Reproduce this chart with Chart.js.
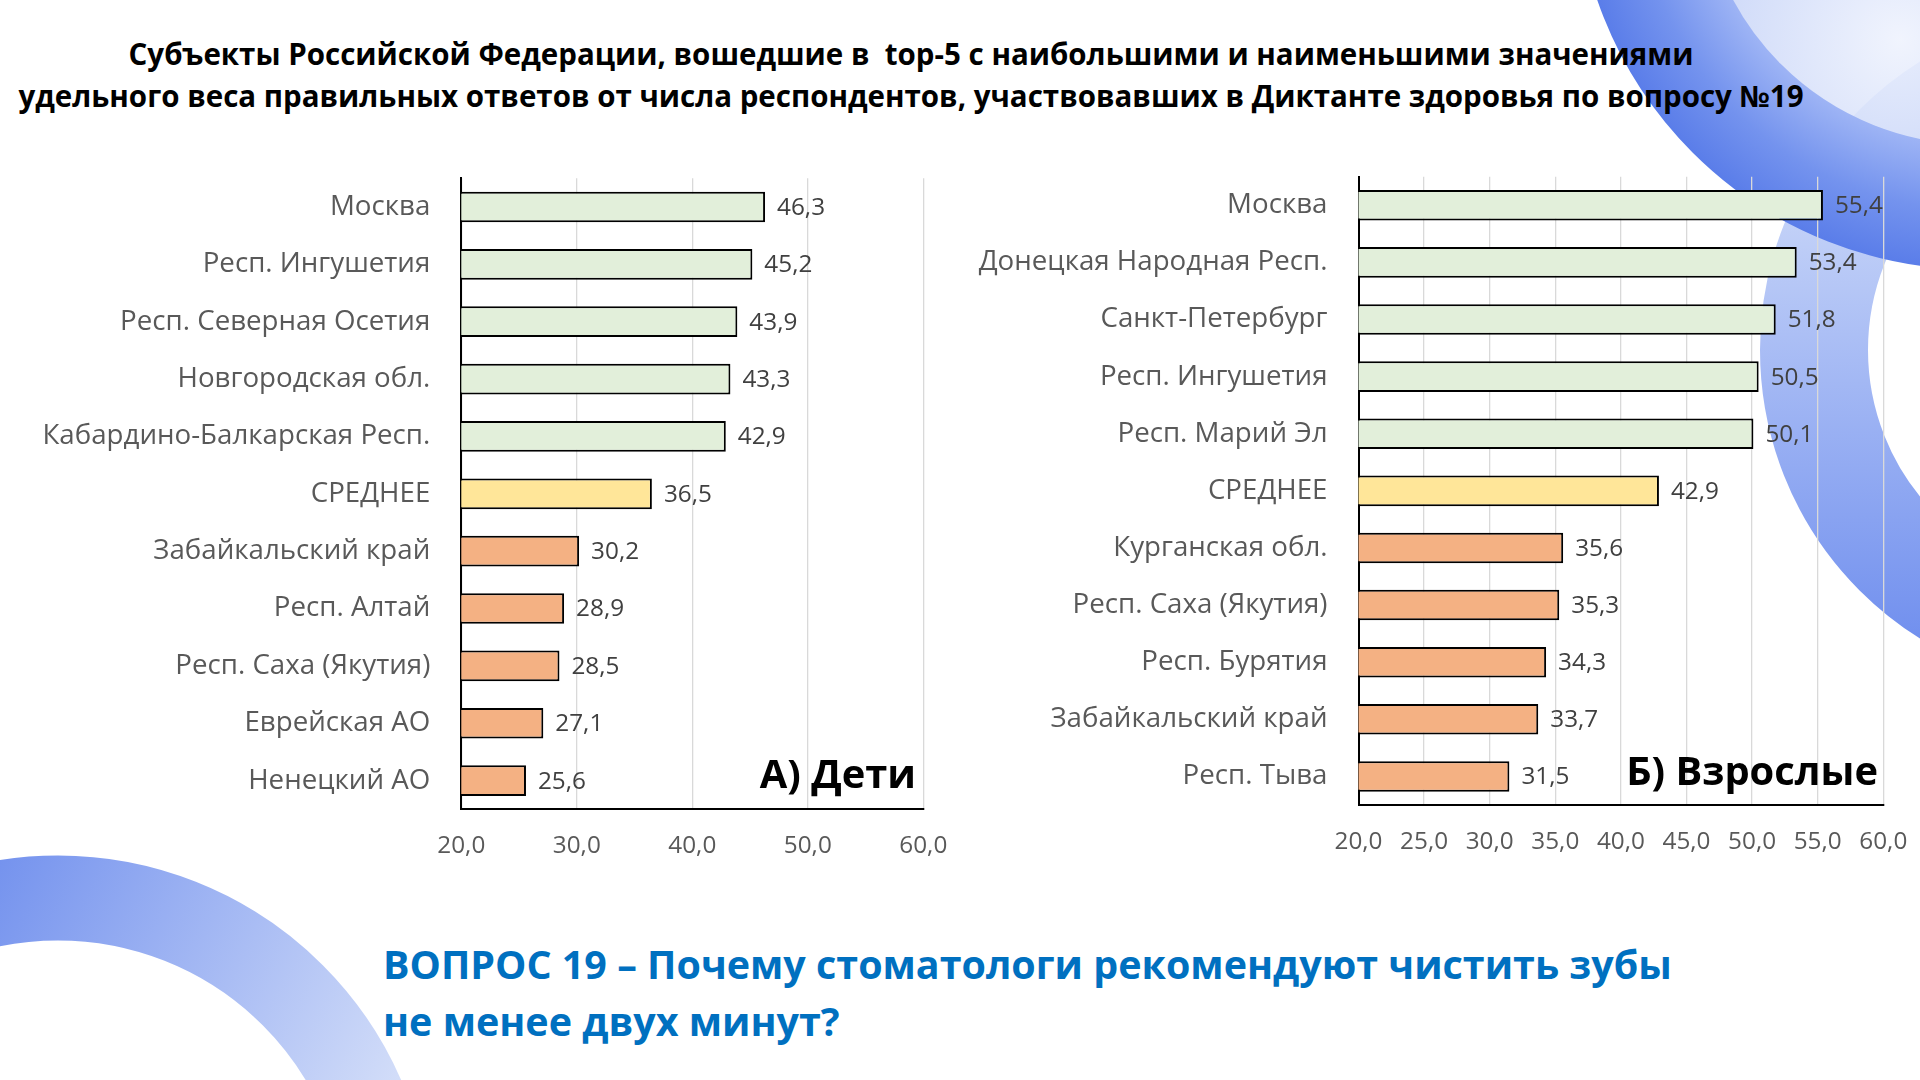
<!DOCTYPE html>
<html>
<head>
<meta charset="utf-8">
<script src="https://cdn.jsdelivr.net/npm/chart.js@4.4.1/dist/chart.umd.min.js"></script>
<style>
  html, body { margin:0; padding:0; background:#fff; }
  body { width:1920px; height:1080px; position:relative; overflow:hidden; font-family:"Open Sans", sans-serif; }
  .abs { position:absolute; white-space:pre; line-height:1; }
  canvas { position:absolute; }
</style>
</head>
<body>
<svg width="1920" height="1080" style="position:absolute;left:0;top:0">
  <defs>
    <radialGradient id="g1" gradientUnits="userSpaceOnUse" cx="1975" cy="-130" r="400">
      <stop offset="0.68" stop-color="#9fb5f5"/>
      <stop offset="0.85" stop-color="#7493ee"/>
      <stop offset="1" stop-color="#5a7de9"/>
    </radialGradient>
    <radialGradient id="g1h" gradientUnits="userSpaceOnUse" cx="1900" cy="40" r="200">
      <stop offset="0" stop-color="#eef2fd"/>
      <stop offset="1" stop-color="#c3d1f7"/>
    </radialGradient>
    <linearGradient id="g2" gradientUnits="userSpaceOnUse" x1="0" y1="200" x2="0" y2="650">
      <stop offset="0" stop-color="#c6d4f8"/>
      <stop offset="1" stop-color="#6f8eee"/>
    </linearGradient>
    <linearGradient id="g3" gradientUnits="userSpaceOnUse" x1="0" y1="860" x2="420" y2="1080">
      <stop offset="0" stop-color="#7593ee"/>
      <stop offset="1" stop-color="#d6e0f9"/>
    </linearGradient>
  </defs>
  <circle cx="2100" cy="350" r="286" fill="none" stroke="url(#g2)" stroke-width="108"/>
  <circle cx="1975" cy="-130" r="275" fill="url(#g1h)" opacity="0.85"/>
  <circle cx="1975" cy="-130" r="337" fill="none" stroke="url(#g1)" stroke-width="125"/>
  <circle cx="58" cy="1230" r="332" fill="none" stroke="url(#g3)" stroke-width="85"/>
</svg>

<div id="t1" class="abs" style="font-weight:700;color:#000;">Субъекты Российской Федерации, вошедшие в  top-5 с наибольшими и наименьшими значениями</div>
<div id="t2" class="abs" style="font-weight:700;color:#000;">удельного веса правильных ответов от числа респондентов, участвовавших в Диктанте здоровья по вопросу №19</div>

<canvas id="kids" width="960" height="730" style="left:0;top:150px"></canvas>
<canvas id="adults" width="960" height="730" style="left:960px;top:150px"></canvas>

<div id="pA" class="abs" style="font-weight:700;color:#000;">А) Дети</div>
<div id="pB" class="abs" style="font-weight:700;color:#000;">Б) Взрослые</div>

<div id="q1" class="abs" style="font-weight:700;color:#0070C0;">ВОПРОС 19 – Почему стоматологи рекомендуют чистить зубы</div>
<div id="q2" class="abs" style="font-weight:700;color:#0070C0;">не менее двух минут?</div>

<script>
// ---------- DATA ----------
const kidsCategories = ["Москва", "Респ. Ингушетия", "Респ. Северная Осетия", "Новгородская обл.",
  "Кабардино-Балкарская Респ.", "СРЕДНЕЕ", "Забайкальский край", "Респ. Алтай",
  "Респ. Саха (Якутия)", "Еврейская АО", "Ненецкий АО"];
const kidsValues = [46.3, 45.2, 43.9, 43.3, 42.9, 36.5, 30.2, 28.9, 28.5, 27.1, 25.6];
const kidsTicks = [20, 30, 40, 50, 60];

const adultCategories = ["Москва", "Донецкая Народная Респ.", "Санкт-Петербург", "Респ. Ингушетия",
  "Респ. Марий Эл", "СРЕДНЕЕ", "Курганская обл.", "Респ. Саха (Якутия)",
  "Респ. Бурятия", "Забайкальский край", "Респ. Тыва"];
const adultValues = [55.4, 53.4, 51.8, 50.5, 50.1, 42.9, 35.6, 35.3, 34.3, 33.7, 31.5];
const adultTicks = [20, 25, 30, 35, 40, 45, 50, 55, 60];

// ---------- helpers ----------
const FAMILY = '"Open Sans", sans-serif';
const mctx = document.createElement('canvas').getContext('2d');
function fit(text, weight, target) {
  mctx.font = weight + ' 100px ' + FAMILY;
  return 100 * target / mctx.measureText(text).width;
}
function fmt(v) { return v.toFixed(1).replace('.', ','); }

function placeText(id, baseline, opts) {
  const el = document.getElementById(id);
  const f = opts.size;
  el.style.fontSize = f + 'px';
  el.style.top = (baseline - 0.888 * f) + 'px';
  if (opts.left !== undefined) el.style.left = opts.left + 'px';
  if (opts.right !== undefined) { el.style.right = (1920 - opts.right) + 'px'; }
  if (opts.center !== undefined) {
    el.style.left = (opts.center - 1000) + 'px';
    el.style.width = '2000px';
    el.style.textAlign = 'center';
  }
}

const titleSize = fit(document.getElementById('t2').textContent, 700, 1786);
placeText('t1', 65.5, { size: titleSize, center: 911 });
placeText('t2', 107, { size: titleSize, center: 911 });

const qSize = fit(document.getElementById('q1').textContent, 700, 1289);
placeText('q1', 980, { size: qSize, left: 383 });
placeText('q2', 1037, { size: qSize, left: 383 });

const pSize = fit('Б) Взрослые', 700, 252);
placeText('pA', 788, { size: pSize, right: 916 });
placeText('pB', 785, { size: pSize, right: 1878 });

const tickSize = fit('30,0', 400, 48);
const catSize = fit('Кабардино-Балкарская Респ.', 400, 388);

function barColor(i) {
  if (i < 5) return '#E2EFDA';
  if (i === 5) return '#FFE699';
  return '#F4B183';
}

const valueLabels = {
  id: 'valueLabels',
  afterDatasetsDraw(chart) {
    const ctx = chart.ctx;
    const ds = chart.data.datasets[0];
    const meta = chart.getDatasetMeta(0);
    ctx.save();
    ctx.font = tickSize + 'px ' + FAMILY;
    ctx.fillStyle = '#404040';
    ctx.textAlign = 'left';
    ctx.textBaseline = 'middle';
    meta.data.forEach((bar, i) => {
      ctx.fillText(fmt(ds.data[i]), bar.x + 12, bar.y + 1);
    });
    ctx.restore();
  }
};

function makeChart(id, cats, vals, ticks, geom) {
  const step = ticks[1] - ticks[0];
  return new Chart(document.getElementById(id), {
    type: 'bar',
    data: {
      labels: cats,
      datasets: [{
        data: vals,
        backgroundColor: vals.map((v, i) => barColor(i)),
        borderColor: '#000',
        borderWidth: 2,
        borderSkipped: false,
        categoryPercentage: 1,
        barPercentage: 0.535
      }]
    },
    options: {
      indexAxis: 'y',
      responsive: false,
      animation: false,
      devicePixelRatio: 1,
      layout: { padding: { top: geom.padTop, right: geom.padRight, left: 0, bottom: 0 } },
      plugins: { legend: { display: false }, tooltip: { enabled: false } },
      scales: {
        x: {
          type: 'linear',
          min: ticks[0],
          max: ticks[ticks.length - 1],
          afterBuildTicks(scale) { scale.ticks = ticks.map(v => ({ value: v })); },
          ticks: {
            callback: v => fmt(v),
            font: { family: FAMILY, size: tickSize },
            color: '#595959',
            padding: geom.xPad,
            maxRotation: 0,
            autoSkip: false
          },
          grid: { color: '#d9d9d9', lineWidth: 1.3, drawTicks: false },
          border: { color: '#000', width: 2 },
          afterFit(scale) { scale.height = geom.xHeight; scale.paddingLeft = 0; scale.paddingRight = 0; }
        },
        y: {
          ticks: {
            font: { family: FAMILY, size: catSize },
            color: '#595959',
            padding: 31,
            autoSkip: false
          },
          grid: { display: false, drawTicks: false },
          border: { color: '#000', width: 2 },
          afterFit(scale) { scale.width = geom.yWidth; scale.paddingTop = 0; scale.paddingBottom = 0; }
        }
      }
    },
    plugins: [valueLabels]
  });
}

makeChart('kids', kidsCategories, kidsValues, kidsTicks,
  { padTop: 28.3, padRight: 960 - 923.3, yWidth: 461.3, xHeight: 730 - (809.3 - 150), xPad: 22 });
makeChart('adults', adultCategories, adultValues, adultTicks,
  { padTop: 26.7, padRight: 1920 - 1883.3, yWidth: 1358.5 - 960, xHeight: 730 - (805 - 150), xPad: 22 });
</script>
</body>
</html>
